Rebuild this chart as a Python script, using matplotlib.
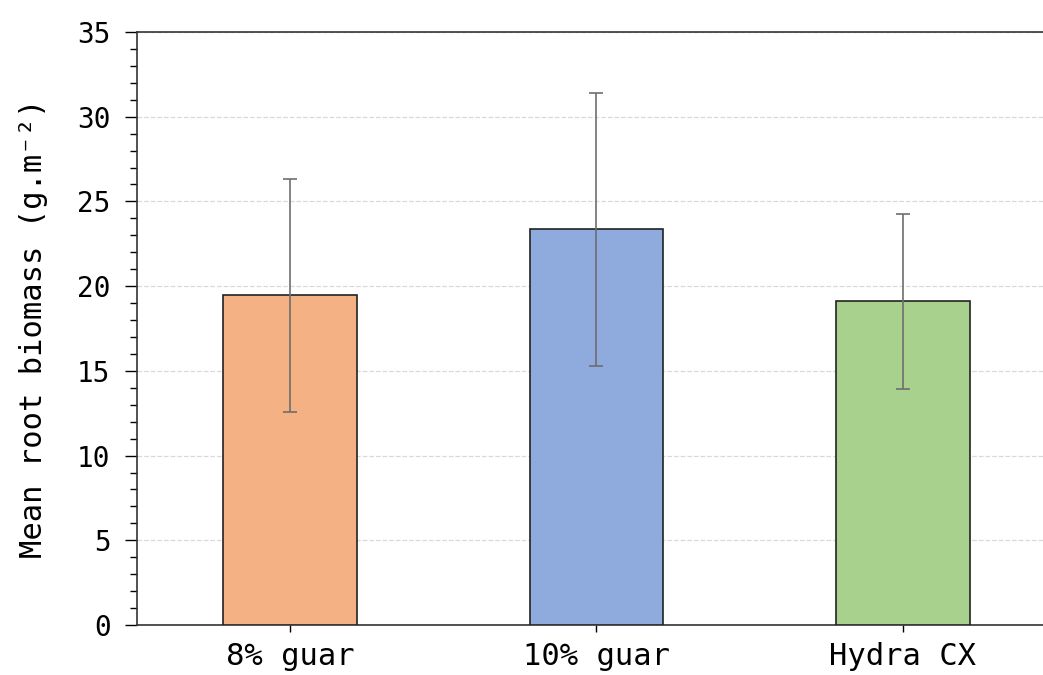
import matplotlib
matplotlib.use("Agg")
import matplotlib.pyplot as plt
from matplotlib.ticker import MultipleLocator

categories = ["8% guar", "10% guar", "Hydra CX"]
means = [19.45, 23.35, 19.1]
errors = [6.9, 8.05, 5.15]
colors = ["#F4B183", "#8FAADC", "#A9D18E"]

plt.rcParams['font.family'] = ['DejaVu Sans Mono', 'DejaVu Sans']

fig = plt.figure(figsize=(10.43, 6.75), dpi=100)
ax = fig.add_axes([0.1313, 0.0741, 0.8812, 0.8785])

x = list(range(len(categories)))
ax.bar(x, means, width=0.437, color=colors, edgecolor="#222222", linewidth=1.2, zorder=3)
ax.errorbar(x, means, yerr=errors, fmt="none", ecolor="#6e6e6e", elinewidth=1.2,
            capsize=5, capthick=1.2, zorder=4)

ax.set_xlim(-0.5, 2.5)
ax.set_ylim(0, 35)
ax.set_xticks(x)
ax.set_xticklabels(categories, fontsize=22)
ax.yaxis.set_major_locator(MultipleLocator(5))
ax.yaxis.set_minor_locator(MultipleLocator(1))
ax.tick_params(axis="y", which="major", length=9, width=1, labelsize=20, direction="out", pad=10)
ax.tick_params(axis="y", which="minor", length=5, width=1, direction="out")
ax.tick_params(axis="x", length=5, width=1, pad=7)
ax.set_ylabel("Mean root biomass (g.m\u207b\u00b2)", fontsize=22, labelpad=21)

ax.grid(axis="y", which="major", linestyle="--", color="#d9d9d9", linewidth=0.9, zorder=0)
ax.set_axisbelow(True)
for s in ["left", "bottom", "top"]:
    ax.spines[s].set_color("#333333")
    ax.spines[s].set_linewidth(1.2)
ax.spines["right"].set_visible(False)

fig.savefig("out.png", dpi=100)
